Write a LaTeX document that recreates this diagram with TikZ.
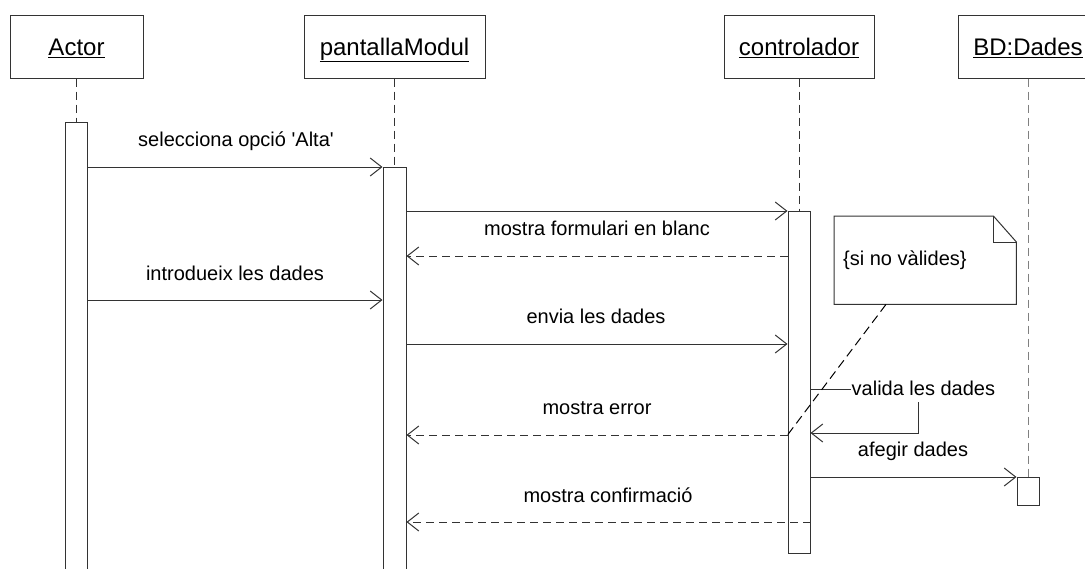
\documentclass[tikz,border=0pt]{standalone}
\usepackage{fontspec}
\setmainfont{Liberation Sans}
\usetikzlibrary{arrows.meta,calc}
\definecolor{lc}{HTML}{333333}
\definecolor{lg}{HTML}{808080}
\tikzset{
  obj/.style={draw=lc, line width=1pt, minimum height=63pt, inner sep=0pt,
    font=\fontsize{24}{28}\selectfont, text height=17.2pt, text depth=0pt},
  act/.style={draw=lc, fill=white, line width=1pt, minimum width=22pt, inner sep=0pt, anchor=north},
  life/.style={draw=lc, line width=1pt, dash pattern=on 8pt off 5pt},
  msg/.style={draw=lc, line width=1pt, -{Straight Barb[length=11.5pt,width=18pt]}},
  ret/.style={msg, dash pattern=on 8pt off 5pt},
  lbl/.style={font=\fontsize{20}{24}\selectfont, inner sep=0pt, anchor=base},
}
\begin{document}
\begin{tikzpicture}[x=1pt,y=-1pt]
\useasboundingbox (0,0) rectangle (1085,568);
\clip (0,0) rectangle (1085,568);
% objects
\node[obj, minimum width=133pt] (actor) at (76.5,46.5) {\underline{Actor}};
\node[obj, minimum width=181pt] (pant) at (394.5,46.5) {\underline{pantallaModul}};
\node[obj, minimum width=150pt] (ctrl) at (799,46.5) {\underline{controlador}};
\node[obj, minimum width=140pt] (bd) at (1028,46.5) {\underline{BD:Dades}};
% activations
\node[act, minimum height=450pt] (aA) at (76.5,122) {};
\node[act, minimum width=23pt, minimum height=405pt] (aP) at (394.5,167) {};
\node[act, minimum height=342pt] (aC) at (799,211) {};
\node[act, minimum height=28pt] (aB) at (1028,477) {};
% lifelines
\draw[life] (actor.south) -- (aA.north);
\draw[life] (pant.south) -- (aP.north);
\draw[life] (ctrl.south) -- (aC.north);
\draw[life, draw=lg] (bd.south) -- (aB.north);
% message heights
\coordinate (y1) at (0,167);
\coordinate (y2) at (0,211);
\coordinate (y3) at (0,256);
\coordinate (y4) at (0,300);
\coordinate (y5) at (0,344);
\coordinate (y6) at (0,389);
\coordinate (y7) at (0,433);
\coordinate (y8) at (0,435);
\coordinate (y9) at (0,522);
\coordinate (s1) at (918,389);
\coordinate (s2) at (918,433);
% messages
\draw[msg] (aA.east |- y1) -- (aP.west |- y1);
\draw[msg] (aP.east |- y2) -- (aC.west |- y2);
\draw[ret] (aC.west |- y3) -- (aP.east |- y3);
\draw[msg] (aA.east |- y4) -- (aP.west |- y4);
\draw[msg] (aP.east |- y5) -- (aC.west |- y5);
\draw[msg] (aC.east |- y6) -- (s1) -- (s2) -- (aC.east |- y7);
\draw[ret] (aC.west |- y8) -- (aP.east |- y8);
\draw[msg] (aC.east |- aB.north west) -- (aB.north west);
\draw[ret] (aC.east |- y9) -- (aP.east |- y9);
% labels
\node[lbl] (l1) at (236,146.7) {selecciona opció \textquotesingle Alta\textquotesingle};
\node[lbl] (l2) at (597,235) {mostra formulari en blanc};
\node[lbl] (l3) at (235,280) {introdueix les dades};
\node[lbl] (l4) at (596,323.3) {envia les dades};
\node[lbl, anchor=base west, fill=white, inner sep=1pt, text depth=5.5pt] (l5) at (850.5,395) {valida les dades};
\node[lbl] (l6) at (597,414.3) {mostra error};
\node[lbl] (l7) at (913,456.7) {afegir dades};
\node[lbl] (l8) at (608,502.7) {mostra confirmació};
% note
\node[minimum width=182pt, minimum height=88pt, inner sep=0pt, anchor=north west] (note) at (834,216) {};
\draw[lc, line width=1pt, line join=miter] (note.north west) -- ([xshift=-23pt]note.north east)
  -- ([yshift=-26pt]note.north east) -- (note.south east) -- (note.south west) -- cycle;
\draw[lc, line width=1pt] ([xshift=-23pt]note.north east) -- ([xshift=-23pt,yshift=-26pt]note.north east)
  -- ([yshift=-26pt]note.north east);
\node[lbl, anchor=base west] (notetxt) at (843,265) {\{si no vàlides\}};
\coordinate (nl) at ([xshift=52pt]note.south west);
\draw[life, draw=black, dash pattern=on 9pt off 5pt] (nl) -- (aC.west |- y8);
\end{tikzpicture}
\end{document}
